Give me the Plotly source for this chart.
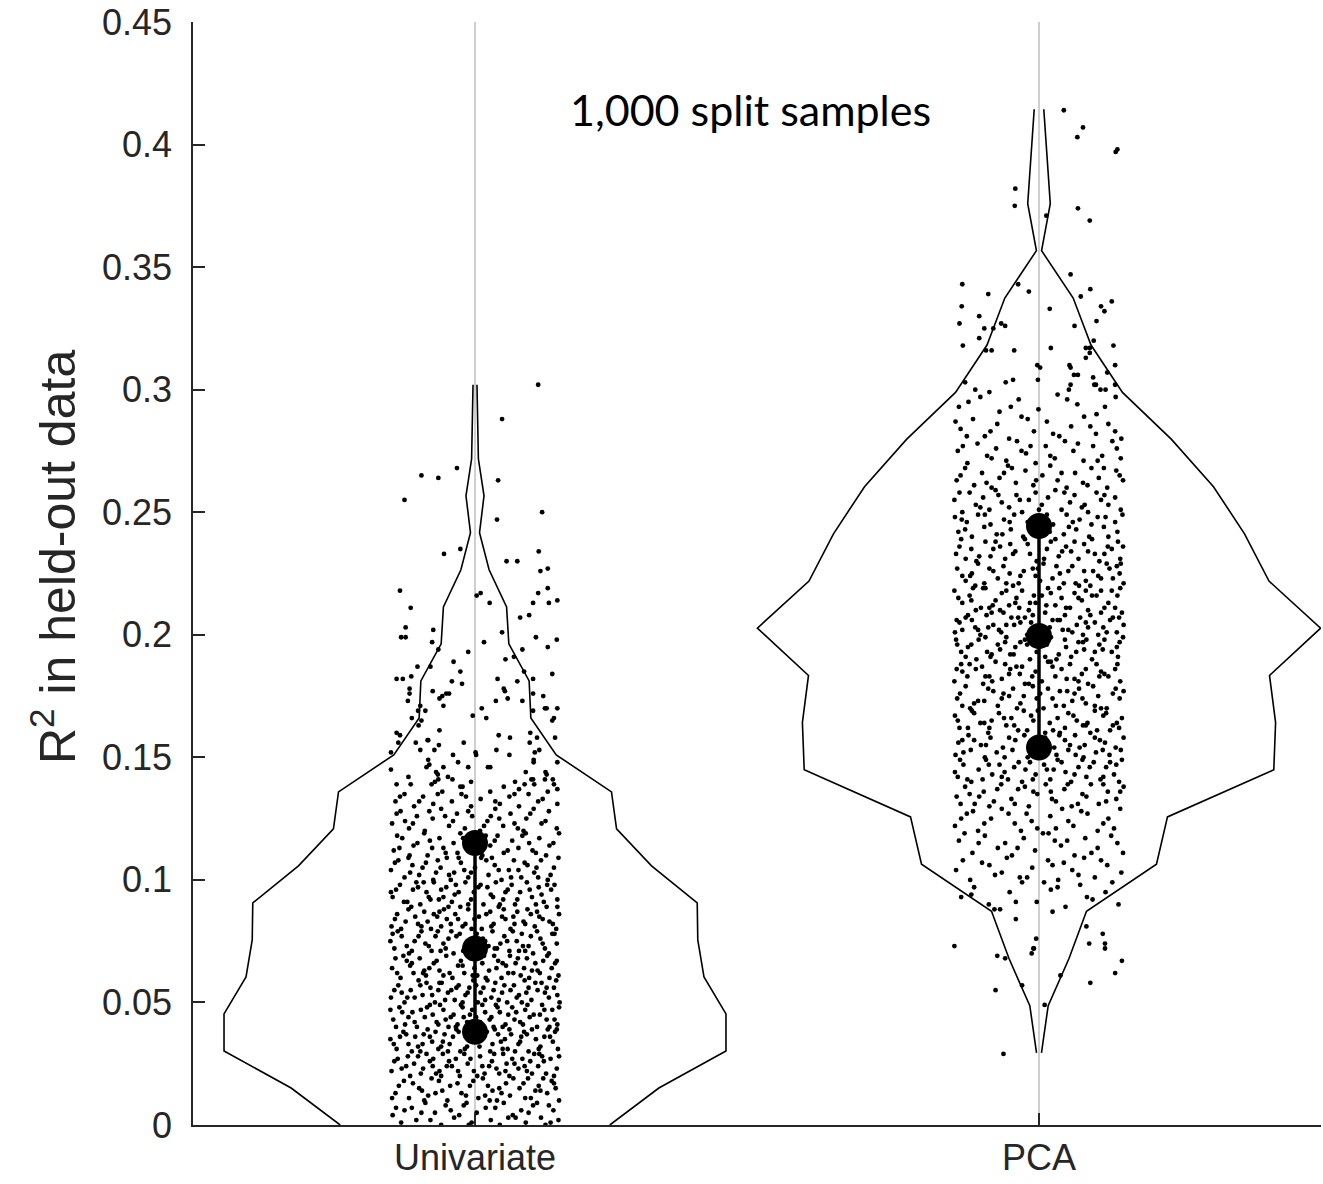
import plotly.graph_objects as go

categories = ["Univariate", "PCA"]
positions = [1, 2]

# Violin outline vertices: R^2 level and half-width (in category-axis units)
uni_edge_y = [0.0, 0.0151, 0.0302, 0.0453, 0.0604, 0.0755, 0.0906, 0.1057, 0.1208, 0.1359,
              0.1510, 0.1661, 0.1812, 0.1963, 0.2114, 0.2265, 0.2416, 0.2567, 0.2718, 0.2869, 0.3020]
uni_half = [0.239, 0.326, 0.445, 0.445, 0.406, 0.395, 0.394, 0.313, 0.251, 0.242,
            0.144, 0.099, 0.096, 0.060, 0.056, 0.025, 0.008, 0.016, 0.006, 0.0045, 0.0035]
pca_edge_y = [0.0294, 0.0487, 0.0679, 0.0872, 0.1064, 0.1257, 0.1449, 0.1642, 0.1834, 0.2027,
              0.2219, 0.2412, 0.2604, 0.2797, 0.2989, 0.3182, 0.3374, 0.3567, 0.3759, 0.3952, 0.4144]
pca_half = [0.0044, 0.0163, 0.0532, 0.0842, 0.2083, 0.2278, 0.4163, 0.4195, 0.4087, 0.4993,
            0.4078, 0.3644, 0.3094, 0.2349, 0.1480, 0.0922, 0.0606, 0.0046, 0.0200, 0.0142, 0.0085]

# Quartiles (25th, median, 75th)
uni_quart = [0.038, 0.072, 0.115]
pca_quart = [0.154, 0.1995, 0.2444]

# Split-sample results: (horizontal jitter, R^2), both in thousandths
uni_core = [
    (-146,4),(-131,1),(-112,7),(-104,2),(-88,9),(-71,5),(-60,0),(-43,6),(-37,3),(-20,8),(-6,1),(3,5),(19,7),(28,2),(44,0),(51,9),(67,4),(82,6),(90,1),(103,8),(117,3),(125,0),(139,6),(148,2),(-95,5),(-15,9),(72,3),(131,8),
    (-141,13),(-126,18),(-117,11),(-99,15),(-83,12),(-77,19),(-58,14),(-49,10),(-31,17),(-24,13),(-9,16),(6,11),(14,19),(31,14),(39,10),(55,17),(62,12),(79,15),(94,19),(99,11),(113,16),(128,13),(136,18),(149,10),(-135,16),(-90,10),(-64,18),(-16,12),(23,16),(47,13),(86,17),(107,14),(121,19),(143,15),
    (-148,22),(-137,27),(-122,24),(-115,20),(-101,28),(-92,23),(-80,26),(-69,21),(-57,29),(-50,24),(-34,27),(-27,20),(-13,25),(-2,22),(9,28),(17,21),(30,26),(38,23),(50,29),(61,20),(70,25),(84,27),(92,22),(105,29),(112,24),(126,21),(134,27),(145,23),(-143,26),(-108,25),(-86,29),(-63,22),(-41,24),(-19,29),(4,20),(25,24),(43,21),(77,23),(98,26),(119,28),(140,20),(-74,27),(56,25),
    (-150,35),(-139,31),(-127,38),(-118,33),(-106,36),(-97,30),(-84,39),(-76,34),(-65,31),(-54,37),(-45,33),(-33,39),(-26,30),(-11,35),(-4,38),(8,32),(16,36),(27,30),(35,39),(46,34),(58,31),(64,37),(77,33),(87,38),(95,30),(108,35),(116,32),(129,39),(138,34),(147,31),(-133,36),(-112,30),(-91,37),(-70,38),(-60,32),(-39,36),(-18,31),(1,34),(21,38),(41,37),(53,35),(71,30),(82,36),(101,39),(123,36),(142,38),(-93,33),
    (-145,43),(-134,48),(-124,41),(-111,46),(-103,40),(-89,44),(-80,49),(-68,42),(-56,47),(-47,40),(-38,45),(-25,49),(-14,42),(-5,47),(7,41),(18,46),(26,43),(37,49),(49,40),(59,45),(66,48),(80,42),(89,47),(97,44),(110,40),(119,49),(127,43),(137,47),(146,41),(-140,40),(-118,44),(-96,47),(-75,45),(-62,49),(-31,41),(-20,44),(2,44),(13,49),(33,40),(44,46),(73,46),(85,41),(104,45),(132,40),(149,48),(-52,43),
    (-149,52),(-136,57),(-125,50),(-114,55),(-100,59),(-93,53),(-79,56),(-71,50),(-59,58),(-48,54),(-36,51),(-29,57),(-17,53),(-3,59),(5,50),(15,56),(29,52),(36,58),(48,54),(57,50),(69,57),(78,53),(88,59),(100,51),(111,55),(118,58),(131,52),(140,56),(150,50),(-130,54),(-107,52),(-86,58),(-65,55),(-42,55),(-22,50),(-10,56),(10,54),(22,59),(42,51),(63,55),(83,50),(95,56),(124,54),(144,59),
    (-147,64),(-132,60),(-121,67),(-109,62),(-98,68),(-87,61),(-73,66),(-63,63),(-51,69),(-40,60),(-30,65),(-19,62),(-8,68),(4,61),(13,66),(25,63),(34,69),(47,60),(55,65),(68,62),(76,68),(87,64),(96,60),(107,66),(115,62),(128,69),(136,64),(148,61),(-141,68),(-115,65),(-81,64),(-56,61),(-25,67),(-1,64),(19,60),(41,67),(62,69),(81,61),(101,63),(121,67),(142,66),(-92,62),
    (-143,72),(-130,77),(-117,70),(-107,75),(-95,79),(-82,73),(-70,77),(-61,71),(-47,76),(-38,70),(-27,78),(-14,73),(-4,76),(9,70),(18,75),(31,79),(39,72),(52,77),(61,71),(74,75),(83,78),(95,73),(103,70),(116,76),(124,72),(137,78),(145,74),(-137,79),(-112,71),(-88,74),(-66,79),(-52,72),(-21,71),(3,78),(24,73),(45,74),(67,79),(89,71),(110,79),(131,70),(-150,75),
    (-148,81),(-138,86),(-123,83),(-113,89),(-101,82),(-90,87),(-78,80),(-67,85),(-55,88),(-43,82),(-35,86),(-22,81),(-12,88),(-1,84),(12,80),(20,86),(33,82),(42,89),(54,84),(63,80),(75,87),(86,83),(93,88),(106,81),(114,85),(127,89),(138,82),(149,86),(-131,80),(-106,85),(-84,83),(-60,81),(-30,84),(-6,80),(27,87),(48,85),(70,82),(99,86),(120,84),(144,80),(-47,89),
    (-146,93),(-133,98),(-120,91),(-110,96),(-97,90),(-86,95),(-73,99),(-64,92),(-51,97),(-41,91),(-29,95),(-17,99),(-7,92),(6,97),(15,90),(28,94),(37,99),(50,92),(58,96),(71,90),(80,95),(92,99),(101,93),(113,97),(122,91),(135,96),(146,92),(-140,96),(-104,99),(-79,92),(-56,93),(-34,98),(-2,95),(22,97),(44,90),(65,98),(108,90),(128,98),
    (-149,104),(-136,108),(-125,101),(-111,106),(-99,102),(-87,107),(-74,100),(-61,105),(-50,109),(-37,103),(-25,107),(-12,101),(0,105),(11,109),(24,102),(35,106),(47,100),(60,104),(69,108),(82,101),(93,106),(105,103),(117,108),(129,100),(140,105),(148,109),(-118,109),(-69,103),(-19,104),(30,109),(77,104),(112,101),(-43,100),
    (-144,112),(-129,117),(-116,110),(-102,115),(-90,119),(-76,113),(-63,117),(-52,111),(-38,115),(-26,119),(-11,112),(2,116),(13,110),(27,114),(40,118),(51,111),(66,116),(77,113),(90,119),(102,112),(114,117),(126,110),(139,115),(149,119),(-134,113),(-84,110),(-31,111),(19,118),(96,115),
    (-147,123),(-132,128),(-117,121),(-103,126),(-89,120),(-75,125),(-60,129),(-46,122),(-32,127),(-18,121),(-5,126),(9,120),(22,124),(36,129),(50,122),(63,127),(76,121),(91,125),(104,129),(118,123),(131,128),(145,121),(-124,124),(-53,126),(28,126),(86,120),
    (-141,132),(-125,135),(-108,130),(-92,134),(-74,131),(-58,136),(-41,132),(-24,135),(-7,130),(10,133),(27,136),(44,131),(61,134),(78,130),(95,135),(112,132),(129,136),(146,131),
]
uni_core_extra = [
    (-125,6),(-79,2),(-52,8),(-28,4),(-11,0),(36,7),(59,3),(95,5),(110,9),(134,1),(-140,7),
    (-147,11),(-110,17),(-70,13),(-44,16),(-3,18),(18,12),(43,15),(68,19),(89,11),(116,14),(140,17),(-94,14),(26,10),
    (-130,23),(-119,28),(-96,21),(-75,24),(-46,26),(-30,22),(-8,27),(13,24),(34,29),(54,22),(66,27),(88,24),(101,21),(122,26),(149,28),(-60,20),(114,29),
    (-144,33),(-122,37),(-101,32),(-80,36),(-57,34),(-29,38),(-14,32),(11,37),(31,33),(49,31),(61,39),(80,34),(92,37),(113,31),(133,36),(145,39),(-48,30),(6,35),
    (-129,46),(-107,42),(-85,48),(-65,41),(-43,44),(-22,48),(-9,45),(9,42),(29,44),(40,48),(54,41),(70,43),(93,49),(115,45),(123,47),(141,43),(-150,47),(-34,40),
    (-143,55),(-120,52),(-97,57),(-76,53),(-53,51),(-33,56),(-13,54),(2,57),(18,51),(33,55),(52,57),(74,52),(91,54),(107,58),(127,56),(146,53),(-63,58),
    (-138,62),(-112,66),(-90,63),(-68,67),(-45,62),(-22,65),(-4,61),(16,69),(38,64),(59,62),(72,66),(92,68),(111,63),(132,60),(145,67),(-127,69),(49,66),
    (-146,78),(-121,73),(-100,77),(-77,71),(-56,74),(-33,77),(-9,72),(14,76),(35,72),(57,75),(78,71),(99,77),(120,74),(141,78),(-42,79),(85,73),
    (-142,84),(-118,88),(-95,81),(-73,86),(-50,84),(-26,89),(-17,82),(7,85),(29,81),(51,88),(68,85),(89,82),(110,87),(132,83),(146,89),(-63,87),
    (-149,95),(-126,91),(-101,97),(-82,93),(-60,96),(-36,94),(-12,90),(10,98),(32,93),(54,95),(75,92),(97,96),(118,94),(141,98),(-91,99),
    (-142,107),(-115,103),(-93,105),(-66,108),(-46,102),(-7,103),(20,108),(42,104),(64,101),(88,107),(109,105),(134,102),(-29,109),
    (-138,118),(-109,114),(-80,116),(-56,113),(-21,117),(6,113),(35,116),(58,112),(84,118),(108,111),(132,114),
    (-139,127),(-110,123),(-81,128),(-39,124),(-12,128),(16,122),(43,125),(70,123),(98,127),(125,124),
    (-133,134),(-99,132),(-66,135),(-16,134),(36,132),(70,135),(120,133),
]
uni_tail = [
    (112,302),(48,288),(-32,268),(-95,265),(-65,264),(41,263),(-125,255),(119,250),(39,247),(-26,235),(-55,233),(113,234),(56,230),(75,230),(129,227),(116,226),(-133,218),(3,216),(10,217),(112,217),(129,219),(103,213),(146,214),(26,213),(131,213),(-114,211),(96,208),(80,207),(-123,203),(-74,202),(48,201),(-131,199),(-123,199),(108,199),
    (-76,197),(16,197),(129,195),(145,198),(-65,194),(84,194),(-12,193),(54,190),(69,191),(-38,189),(-102,187),(-79,187),(-26,185),(87,185),(137,184),(-139,182),(-128,182),(-113,183),(40,182),(103,182),(-41,181),(75,181),(-23,180),(-116,178),(-116,176),(-75,177),(-51,176),(-46,176),(-58,175),(51,178),(53,177),(103,176),(121,175),(-63,174),(58,174),(84,173),(-119,173),(-56,171),(-97,171),(37,173),(124,170),(127,170),(146,170),(-88,169),(-101,169),(12,170),(103,169),(-4,167),(20,166),(-112,166),(140,166),(-95,165),(137,165),(-100,163),(-63,161),(98,160),(-139,160),(-133,159),(142,158),(42,159),(62,158),(110,158),(-83,157),(-84,157),(-105,156),(-20,156),(-136,156),(-64,155),(97,156),(-97,153),(-72,153),(38,153),(114,153),(106,152),(1,152),(2,151),(-149,152),(-39,151),(61,151),(104,149),(104,148),(-83,149),(-30,148),(146,148),(-149,145),(-86,146),(-81,147),(-56,146),(-12,146),(23,146),(27,146),(125,144),(90,144),(-69,144),(-66,143),(127,143),(-118,142),(-48,142),(-40,141),(100,141),(103,141),(124,141),(138,141),(-65,141),(-71,140),(-77,139),(-7,140),(-139,139),(-114,139),(-26,138),(-22,138),(71,140),(88,139),(105,139),(140,139),(51,138),(78,137),(146,137),
]
pca_core = [
    (-138,93),(-115,97),(-89,90),(-52,95),(-30,99),(-4,91),(21,96),(47,89),(73,98),(95,92),(118,95),(141,90),(-69,88),(9,99),
    (-147,104),(-122,100),(-101,107),(-78,102),(-57,109),(-34,101),(-12,105),(16,108),(34,100),(59,104),(80,109),(99,101),(121,106),(146,103),(-88,106),(44,107),
    (-142,116),(-118,111),(-96,118),(-73,113),(-48,110),(-27,117),(-7,112),(17,119),(39,114),(63,110),(82,117),(104,113),(128,118),(149,111),(-132,119),(-60,115),(28,116),
    (-149,122),(-128,127),(-108,120),(-85,125),(-66,129),(-43,123),(-22,127),(-3,121),(20,126),(41,129),(61,122),(86,127),(104,120),(123,125),(144,129),(-117,128),(-32,120),(52,124),(133,121),
    (-146,134),(-131,138),(-114,131),(-98,136),(-80,132),(-67,139),(-49,133),(-37,137),(-18,130),(-3,135),(12,139),(30,132),(45,137),(58,130),(77,135),(92,139),(106,131),(122,136),(137,133),(150,138),(-123,135),(-88,130),(-25,138),(21,136),(69,131),(114,139),
    (-144,142),(-134,147),(-120,140),(-107,145),(-94,149),(-83,143),(-70,147),(-55,141),(-44,146),(-30,140),(-16,148),(-6,143),(9,147),(20,141),(33,149),(47,144),(57,140),(70,146),(84,142),(97,148),(109,141),(119,146),(133,143),(147,149),(-140,149),(-100,141),(-61,144),(-24,145),(26,145),(77,149),(126,148),(142,140),
    (-148,151),(-121,153),(-96,150),(-75,152),(-47,153),(-20,150),(3,152),(31,151),(52,153),(79,150),(101,152),(125,151),(145,153),
    (-143,156),(-125,159),(-103,155),(-86,158),(-64,154),(-42,157),(-26,159),(-9,155),(11,158),(27,154),(46,157),(64,159),(81,155),(99,158),(117,156),(136,154),(150,158),(-115,157),(55,155),
    (-149,167),(-141,162),(-126,162),(-119,169),(-104,164),(-90,160),(-84,165),(-71,168),(-58,163),(-49,166),(-37,161),(-21,161),(-14,167),(-2,169),(11,160),(19,164),(33,166),(46,162),(52,168),(67,165),(78,163),(91,160),(99,169),(114,167),(126,161),(138,164),(147,166),(-97,164),(-27,169),(37,160),(83,163),(131,163),
    (-145,174),(-130,179),(-122,170),(-108,173),(-97,173),(-81,177),(-73,171),(-63,176),(-46,178),(-33,172),(-27,175),(-11,179),(2,176),(8,170),(24,174),(37,177),(44,171),(59,173),(71,178),(83,172),(96,179),(105,175),(120,170),(131,176),(143,174),(150,177),(-136,171),(-53,175),(16,178),(63,176),(110,170),
    (-150,181),(-136,185),(-123,188),(-112,186),(-99,180),(-88,183),(-77,189),(-66,182),(-53,184),(-40,187),(-30,187),(-18,180),(-6,185),(5,181),(16,189),(29,183),(40,186),(55,188),(63,182),(76,184),(87,180),(102,188),(110,185),(123,183),(135,186),(144,181),(-138,188),(-95,183),(-51,186),(-25,180),(21,189),(70,181),(116,184),
    (-147,198),(-138,193),(-120,196),(-111,190),(-95,199),(-86,191),(-69,194),(-60,197),(-51,192),(-42,195),(-25,198),(-16,190),(-4,193),(14,196),(21,199),(35,192),(48,195),(57,191),(70,197),(80,194),(94,190),(107,196),(116,198),(129,193),(140,191),(149,199),(-126,195),(-84,192),(-58,199),(-21,196),(11,191),(46,198),(78,197),(99,193),(138,195),
    (-149,201),(-141,205),(-126,208),(-119,206),(-104,200),(-90,203),(-84,209),(-71,202),(-58,204),(-49,207),(-37,207),(-21,200),(-14,205),(-2,201),(11,209),(19,203),(33,206),(46,208),(52,202),(67,204),(78,200),(91,208),(99,205),(114,203),(126,206),(138,201),(147,209),(-130,207),(-108,202),(-81,204),(-63,209),(-33,205),(-11,208),(8,203),(37,206),(59,201),(83,205),(105,200),(131,207),(150,204),
    (-150,218),(-136,213),(-123,216),(-112,210),(-99,219),(-88,211),(-77,214),(-66,217),(-53,212),(-40,215),(-30,218),(-18,210),(-6,213),(5,216),(16,219),(29,212),(40,215),(55,211),(63,217),(76,214),(87,210),(102,216),(110,218),(123,213),(135,211),(144,219),(-120,214),(-95,219),(-69,210),(-42,213),(-16,213),(21,217),(48,211),(94,216),(129,218),
    (-145,227),(-130,222),(-122,224),(-108,229),(-97,221),(-81,226),(-73,223),(-63,228),(-46,220),(-33,224),(-27,226),(-11,227),(2,222),(8,229),(24,223),(37,225),(44,221),(59,228),(71,220),(83,222),(96,226),(105,224),(120,229),(131,223),(143,225),(150,221),(-119,225),(-58,221),(-2,227),(52,226),(91,220),(138,228),
    (-147,233),(-138,239),(-120,235),(-111,230),(-95,238),(-86,232),(-69,236),(-60,231),(-51,237),(-42,234),(-25,239),(-16,233),(-4,230),(14,235),(21,238),(35,232),(48,236),(57,234),(70,231),(80,237),(94,239),(107,230),(116,233),(129,235),(140,238),(149,236),(-130,231),(-77,238),(29,239),(87,234),
    (-143,242),(-119,240),(-97,244),(-75,241),(-50,243),(-28,240),(-3,244),(19,242),(44,241),(66,243),(89,240),(115,244),(139,242),
    (-149,248),(-128,246),(-108,249),(-86,245),(-62,247),(-44,249),(-20,246),(3,248),(25,245),(49,249),(72,247),(93,245),(118,248),(135,246),(148,249),
    (-150,255),(-136,250),(-123,258),(-112,253),(-99,256),(-88,251),(-77,259),(-66,254),(-53,252),(-40,257),(-30,250),(-18,255),(-6,258),(5,253),(16,256),(29,259),(40,251),(55,254),(63,257),(76,252),(87,250),(102,258),(110,255),(123,253),(135,256),
    (-146,263),(-131,268),(-115,261),(-101,266),(-84,260),(-70,264),(-55,269),(-41,262),(-24,267),(-10,261),(6,265),(20,269),(33,263),(49,260),(64,266),(78,262),(93,268),(106,264),(121,260),(137,267),(149,263),(-62,266),
    (-144,275),(-127,270),(-109,278),(-92,273),(-76,276),(-58,271),(-39,279),(-23,274),(-6,270),(12,277),(28,272),(46,279),(61,275),(79,271),(96,277),(112,273),(130,279),(145,272),(-15,277),
    (-139,284),(-117,288),(-96,281),(-74,286),(-53,280),(-31,289),(-9,283),(14,287),(36,281),(57,285),(80,289),(101,282),(123,286),(146,280),(-128,281),
    (-142,293),(-104,297),(-70,291),(-36,296),(-1,292),(33,298),(68,294),(102,290),(136,297),(-88,299),
]
pca_core_extra = [
    (-120,94),(-41,91),(33,97),(85,93),(130,99),
    (-135,108),(-66,103),(-21,101),(24,106),(70,102),(110,108),
    (-107,115),(-38,113),(7,119),(50,116),(93,111),(139,115),
    (-138,125),(-97,123),(-54,127),(-13,124),(30,121),(75,128),(114,123),
    (-139,131),(-106,134),(-74,137),(-43,131),(-10,136),(23,133),(51,139),(84,134),(119,132),(144,136),
    (-149,144),(-127,141),(-89,147),(-66,142),(-36,148),(-11,141),(14,145),(40,148),(63,143),(90,146),(114,142),(137,147),
    (-134,152),(-61,150),(-9,153),(65,151),(113,153),
    (-136,157),(-94,155),(-53,158),(-16,156),(36,159),(72,154),(108,157),
    (-144,165),(-115,168),(-88,162),(-62,166),(-44,163),(-10,165),(25,161),(61,167),(86,164),(103,161),(119,168),(142,162),
    (-140,176),(-115,172),(-90,178),(-66,174),(-39,170),(-4,174),(30,171),(50,177),(77,174),(99,171),(136,178),
    (-146,186),(-127,183),(-101,187),(-83,181),(-60,188),(-34,184),(-12,183),(24,187),(49,182),(83,186),(107,183),(139,188),
    (-145,196),(-130,191),(-107,198),(-92,193),(-73,196),(-45,192),(-33,197),(0,195),(31,190),(66,193),(84,198),(113,194),(143,197),
    (-146,206),(-113,203),(-93,208),(-67,201),(-44,204),(-25,207),(1,203),(24,206),(42,202),(73,207),(87,203),(110,209),(120,201),(142,207),(-136,202),
    (-143,215),(-117,219),(-82,212),(-58,218),(-35,211),(-9,216),(13,212),(36,219),(70,215),(83,218),(116,211),(139,216),(-103,211),
    (-136,224),(-113,220),(-88,227),(-52,225),(-36,221),(-6,224),(31,228),(65,221),(80,226),(110,223),(125,227),(145,229),
    (-141,236),(-106,232),(-81,235),(-46,233),(-20,237),(9,231),(41,234),(63,238),(99,233),(122,236),(144,231),
    (-131,243),(-65,241),(-15,242),(53,244),(123,240),
    (-137,247),(-96,249),(-52,246),(14,249),(60,246),(104,248),
    (-141,258),(-104,252),(-72,257),(-34,255),(0,251),(45,258),(81,253),(116,257),(145,251),
    (-139,265),(-93,262),(-48,268),(-5,263),(40,266),(86,261),(115,268),(143,265),
    (-135,277),(-84,272),(-31,275),(20,273),(69,278),(104,271),(138,276),
    (-148,287),(-86,283),(-20,288),(25,282),(91,285),(135,283),
    (-125,295),(-50,293),(50,296),(117,293),
]
pca_tail = [
    (44,414),(78,407),(68,403),(139,398),(136,397),(-42,382),(-43,375),(69,374),(13,371),(90,369),(56,347),(-136,343),(-37,343),(-18,340),(-90,339),(91,341),(74,338),(-137,334),(19,333),(129,336),(110,334),(116,332),(-106,330),(-141,327),(-67,327),(-60,326),(102,328),(63,326),(-97,325),(-81,325),(-106,321),(97,320),(-135,318),(132,318),(-44,316),(21,317),(83,317),(90,317),(-94,316),(-84,316),(90,315),(83,313),(-3,310),(2,309),(54,310),(56,309),(135,310),(121,307),(62,306),(69,306),(-2,304),(-131,303),(-46,304),(-59,303),(96,305),(56,302),(53,300),(98,302),(101,302),(135,302),(-113,300),(109,300),(118,300),
    (-79,88),(24,87),(-41,84),(84,81),(113,78),(-5,76),(-150,73),(89,74),(117,74),(117,72),(-10,72),(-9,72),(-13,70),(-74,69),(-60,68),(147,67),(38,61),(135,62),(-30,57),(-77,55),(91,58),(10,49),(-63,29),
]

y_tickvals = [0, 0.05, 0.1, 0.15, 0.2, 0.25, 0.3, 0.35, 0.4, 0.45]
y_ticktext = ["0", "0.05", "0.1", "0.15", "0.2", "0.25", "0.3", "0.35", "0.4", "0.45"]

note_text = "1,000 split samples"
y_title = "R<sup>2</sup> in held-out data"

fig = go.Figure()

# violin outlines (each side drawn as an open line)
for pos, ey, hw in [(positions[0], uni_edge_y, uni_half), (positions[1], pca_edge_y, pca_half)]:
    for sgn in (1, -1):
        fig.add_trace(go.Scatter(
            x=[pos + sgn * h for h in hw], y=ey, mode="lines",
            line=dict(color="black", width=1.6), hoverinfo="skip", showlegend=False))

# jittered split-sample points
groups = [(positions[0], uni_core + uni_core_extra + uni_tail),
          (positions[1], pca_core + pca_core_extra + pca_tail)]
for pos, pts in groups:
    fig.add_trace(go.Scatter(
        x=[pos + p[0] / 1000 for p in pts], y=[p[1] / 1000 for p in pts],
        mode="markers", marker=dict(color="black", size=4.8, line=dict(width=0)),
        showlegend=False, hoverinfo="skip"))

# quartiles
for pos, q in [(positions[0], uni_quart), (positions[1], pca_quart)]:
    fig.add_trace(go.Scatter(
        x=[pos] * len(q), y=q, mode="lines+markers",
        line=dict(color="black", width=3.5),
        marker=dict(color="black", size=26, line=dict(width=0)),
        showlegend=False))

fig.add_annotation(x=1.4876, y=0.4141, xref="x", yref="y", text=note_text,
                   showarrow=False, xanchor="center", yanchor="middle",
                   font=dict(family="Lato, Open Sans, sans-serif", size=43, color="black"))

fig.add_annotation(x=-0.1232, y=0.515, xref="paper", yref="paper", text=y_title,
                   showarrow=False, textangle=-90, xanchor="center", yanchor="middle",
                   font=dict(family="Liberation Sans, Arial, sans-serif", size=50, color="#262626"))

axis_col = "#262626"
fig.update_layout(
    width=1323, height=1184,
    margin=dict(l=193, r=2, t=22, b=59),
    plot_bgcolor="white", paper_bgcolor="white",
    showlegend=False,
    font=dict(family="Liberation Sans, Arial, sans-serif", color=axis_col),
    xaxis=dict(range=[0.5, 2.5], tickmode="array", tickvals=positions, ticktext=categories,
               ticks="inside", ticklen=12, tickwidth=1.5, tickcolor=axis_col,
               showline=True, linecolor=axis_col, linewidth=1.6,
               showgrid=True, gridcolor="#cfcfcf", gridwidth=1.5, zeroline=False,
               tickfont=dict(size=36, color=axis_col)),
    yaxis=dict(range=[0, 0.45], tickmode="array", tickvals=y_tickvals, ticktext=y_ticktext,
               ticks="inside", ticklen=12, tickwidth=1.5, tickcolor=axis_col,
               showline=True, linecolor=axis_col, linewidth=1.6,
               showgrid=False, zeroline=False, ticklabelstandoff=12,
               tickfont=dict(size=36, color=axis_col)),
)

fig.write_html("out.html")
